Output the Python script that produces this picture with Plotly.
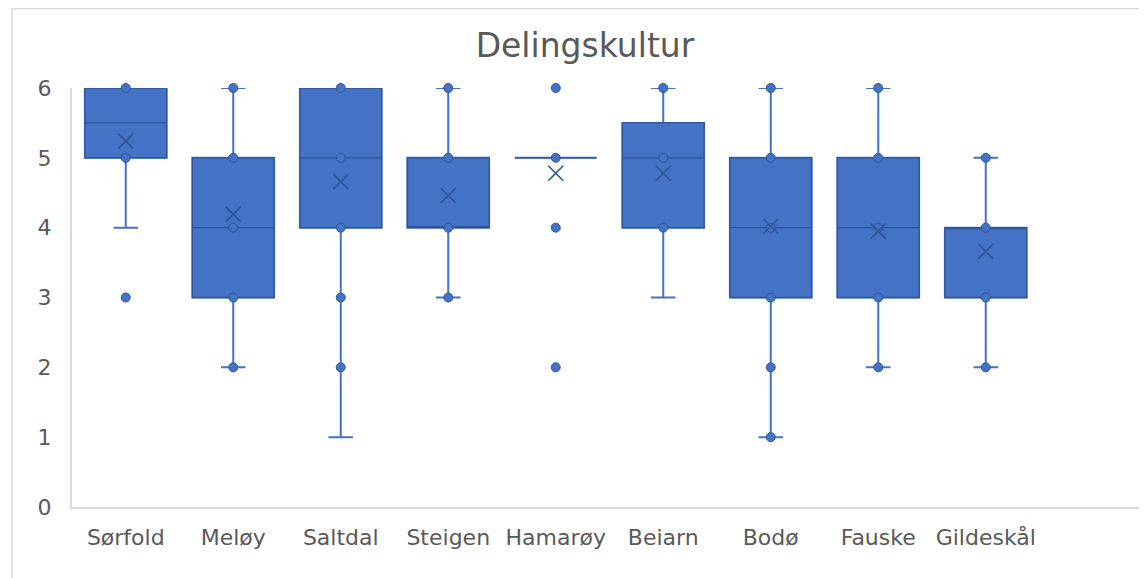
import plotly.graph_objects as go

categories = ["Sørfold", "Meløy", "Saltdal", "Steigen", "Hamarøy", "Beiarn", "Bodø", "Fauske", "Gildeskål"]
q1 = [5, 3, 4, 4, 5, 4, 3, 3, 3]
median = [5.5, 4, 5, 4, 5, 5, 4, 4, 4]
q3 = [6, 5, 6, 5, 5, 5.5, 5, 5, 4]
lower_whisker = [4, 2, 1, 3, 5, 3, 1, 2, 2]
upper_whisker = [6, 6, 6, 6, 5, 6, 6, 6, 5]
means = [5.24, 4.19, 4.66, 4.46, 4.78, 4.78, 4.02, 3.95, 3.66]
points = [
    [6, 5, 3],
    [2, 3, 4, 5, 6],
    [2, 3, 4, 5, 6],
    [3, 4, 5, 6],
    [2, 4, 5, 6],
    [4, 5, 6],
    [1, 2, 3, 4, 5, 6],
    [2, 3, 4, 5, 6],
    [2, 3, 4, 5],
]
y_ticks = [0, 1, 2, 3, 4, 5, 6]

FILL = "#4472C4"
DARK = "#2F5597"
TEXT = "#595959"
AXIS = "#D9D9D9"
FONT = "DejaVu Sans"

W, H = 1139, 570
L, T, B = 64, 80, 71
PW = W - L
PH = H - T - B

fig = go.Figure()

# whiskers + box (lighter line)
fig.add_trace(go.Box(
    x=categories, q1=q1, median=median, q3=q3,
    lowerfence=lower_whisker, upperfence=upper_whisker,
    fillcolor=FILL, line=dict(color=FILL, width=2),
    width=0.76, whiskerwidth=0.3, boxpoints=False,
    showlegend=False, hoverinfo="skip",
))
# box outline + median (darker line), no whiskers
fig.add_trace(go.Box(
    x=categories, q1=q1, median=median, q3=q3,
    lowerfence=q1, upperfence=q3,
    fillcolor=FILL, line=dict(color=DARK, width=1.3),
    width=0.76, whiskerwidth=0, boxpoints=False,
    showlegend=False, hoverinfo="skip",
))

px, py = [], []
for c, vals in zip(categories, points):
    for v in vals:
        px.append(c)
        py.append(v)
fig.add_trace(go.Scatter(
    x=px, y=py, mode="markers", cliponaxis=False,
    marker=dict(size=9, color=FILL, line=dict(color=DARK, width=1)),
    showlegend=False,
))
fig.add_trace(go.Scatter(
    x=categories, y=means, mode="markers", cliponaxis=False,
    marker=dict(symbol="x-thin-open", size=15, color=DARK, line=dict(color=DARK, width=1.6)),
    showlegend=False,
))

fig.update_layout(
    width=W, height=H,
    margin=dict(l=L, r=0, t=T, b=B),
    paper_bgcolor="white", plot_bgcolor="white",
    boxmode="overlay",
    title=dict(text="Delingskultur", x=(577 - L) / PW, xanchor="center", xref="paper",
               y=1 - 37 / H, yanchor="middle", yref="container",
               font=dict(family=FONT, size=33, color=TEXT)),
    font=dict(family=FONT, color=TEXT),
    shapes=[dict(type="rect", xref="paper", yref="paper",
                 x0=(4 - L) / PW, x1=1.02, y0=-0.3, y1=(T + PH - 0.5) / PH,
                 line=dict(color=AXIS, width=1.5), layer="below")],
)
fig.update_xaxes(type="category", categoryorder="array", categoryarray=categories,
                 range=[-0.5, 9.5], showgrid=False, showline=True, linecolor=AXIS,
                 linewidth=2, ticks="", ticklabelstandoff=10,
                 tickfont=dict(family=FONT, size=22, color=TEXT))
fig.update_yaxes(range=[0, 6], tickvals=y_ticks, showgrid=False, zeroline=False,
                 showline=True, linecolor=AXIS, linewidth=2, ticks="",
                 ticklabelstandoff=14,
                 tickfont=dict(family=FONT, size=22, color=TEXT))

fig.write_html("out.html")
